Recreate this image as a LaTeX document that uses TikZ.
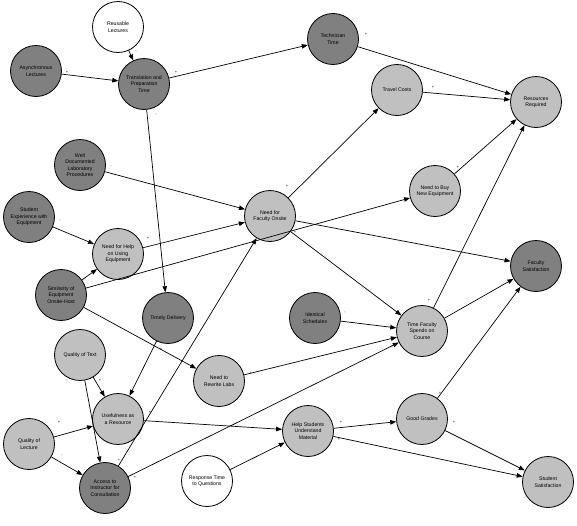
\documentclass[tikz,border=0pt]{standalone}
\usepackage{fontspec}
\setmainfont{Liberation Sans}
\usetikzlibrary{arrows.meta}
\definecolor{darkfill}{RGB}{128,128,128}
\definecolor{lightfill}{RGB}{192,192,192}
\begin{document}
\begin{tikzpicture}[x=1pt,y=-1pt,
  var/.style={circle,draw=black,line width=0.8pt,minimum size=51pt,inner sep=0pt,align=center,font=\fontsize{5.2}{6.5}\selectfont},
  dk/.style={var,fill=darkfill},
  lt/.style={var,fill=lightfill},
  wh/.style={var,fill=white},
  e/.style={line width=0.7pt,-{Triangle[length=6pt,width=4.5pt]}},
  lab/.style={font=\fontsize{4}{4}\selectfont,inner sep=0pt}]
\useasboundingbox (0,0) rectangle (577,525);
\node[wh] (reu) at (118,27) {Reusable\\Lectures};
\node[dk] (asy) at (36,71) {Asynchronous\\Lectures};
\node[dk] (tra) at (144,84) {Translation and\\Preparation\\Time};
\node[dk] (tec) at (333,39) {Technician\\Time};
\node[lt] (trv) at (397,90) {Travel Costs};
\node[lt] (res) at (536,102) {Resources\\Required};
\node[dk] (wel) at (80,165) {Well\\Documented\\Laboratory\\Procedures};
\node[lt] (nfo) at (270,216) {Need for\\Faculty Onsite};
\node[lt] (buy) at (435,191) {Need to Buy\\New Equipment};
\node[dk] (sex) at (29,217) {Student\\Experience with\\Equipment};
\node[lt] (nfh) at (118,254) {Need for Help\\on Using\\Equipment};
\node[dk] (fsat) at (536,266) {Faculty\\Satisfaction};
\node[dk] (sim) at (61,295) {Similarity of\\Equipment\\Onsite-Host};
\node[dk] (tdl) at (168,318) {Timely Delivery};
\node[dk] (ids) at (315,318) {Identical\\Schedules};
\node[lt] (tfs) at (422,331) {Time Faculty\\Spends on\\Course};
\node[lt] (qt) at (80,355) {Quality of Text};
\node[lt] (ntr) at (219,381) {Need to\\Rewrite Labs};
\node[lt] (use) at (118,419) {Usefulness as\\a Resource};
\node[lt] (ql) at (29,444) {Quality of\\Lecture};
\node[lt] (hsu) at (308,431) {Help Students\\Understand\\Material};
\node[lt] (gg) at (422,419) {Good Grades};
\node[dk] (acc) at (105,488) {Access to\\Instructor for\\Consultation};
\node[wh] (rtq) at (207,481) {Response Time\\to Questions};
\node[lt] (ssat) at (548,482) {Student\\Satisfaction};

\draw[e] (reu) -- (tra) node[lab] at (136,52) {-};
\draw[e] (asy) -- (tra) node[lab] at (67,72) {+};
\draw[e] (tra) -- (tec) node[lab] at (176,72) {+};
\draw[e] (tra) -- (tdl) node[lab] at (156,115) {-};
\draw[e] (tec) -- (res) node[lab] at (366,34) {+};
\draw[e] (trv) -- (res) node[lab] at (433,87) {+};
\draw[e] (buy) -- (res) node[lab] at (458,167) {+};
\draw[e] (tfs) -- (res) node[lab] at (429,300) {+};
\draw[e] (nfo) -- (trv) node[lab] at (287,186) {+};
\draw[e] (wel) -- (nfo) node[lab] at (111,167) {-};
\draw[e] (nfh) -- (nfo) node[lab] at (148,238) {+};
\draw[e] (acc) -- (nfo) node[lab] at (119,460) {+};
\draw[e] (sim) -- (buy) node[lab] at (88,285) {-};
\draw[e] (sim) -- (nfh) node[lab] at (85,280) {-};
\draw[e] (sim) -- (ntr) node[lab] at (84,309) {-};
\draw[e] (sex) -- (nfh) node[lab] at (60,221) {-};
\draw[e] (nfo) -- (fsat) node[lab] at (301,218) {-};
\draw[e] (nfo) -- (tfs) node[lab] at (295,232) {+};
\draw[e] (tdl) -- (use) node[lab] at (161,349) {+};
\draw[e] (ids) -- (tfs) node[lab] at (345,313) {-};
\draw[e] (ntr) -- (tfs) node[lab] at (251,373) {+};
\draw[e] (acc) -- (tfs) node[lab] at (135,477) {+};
\draw[e] (tfs) -- (fsat) node[lab] at (447,312) {-};
\draw[e] (gg) -- (fsat) node[lab] at (440,393) {+};
\draw[e] (gg) -- (ssat) node[lab] at (454,422) {+};
\draw[e] (hsu) -- (gg) node[lab] at (341,422) {+};
\draw[e] (hsu) -- (ssat) node[lab] at (339,439) {+};
\draw[e] (rtq) -- (hsu) node[lab] at (232,464) {-};
\draw[e] (use) -- (hsu) node[lab] at (150,412) {+};
\draw[e] (qt) -- (use) node[lab] at (100,380) {+};
\draw[e] (qt) -- (acc) node[lab] at (67,381) {-};
\draw[e] (ql) -- (use) node[lab] at (59,422) {+};
\draw[e] (ql) -- (acc) node[lab] at (62,456) {-};
\end{tikzpicture}
\end{document}
